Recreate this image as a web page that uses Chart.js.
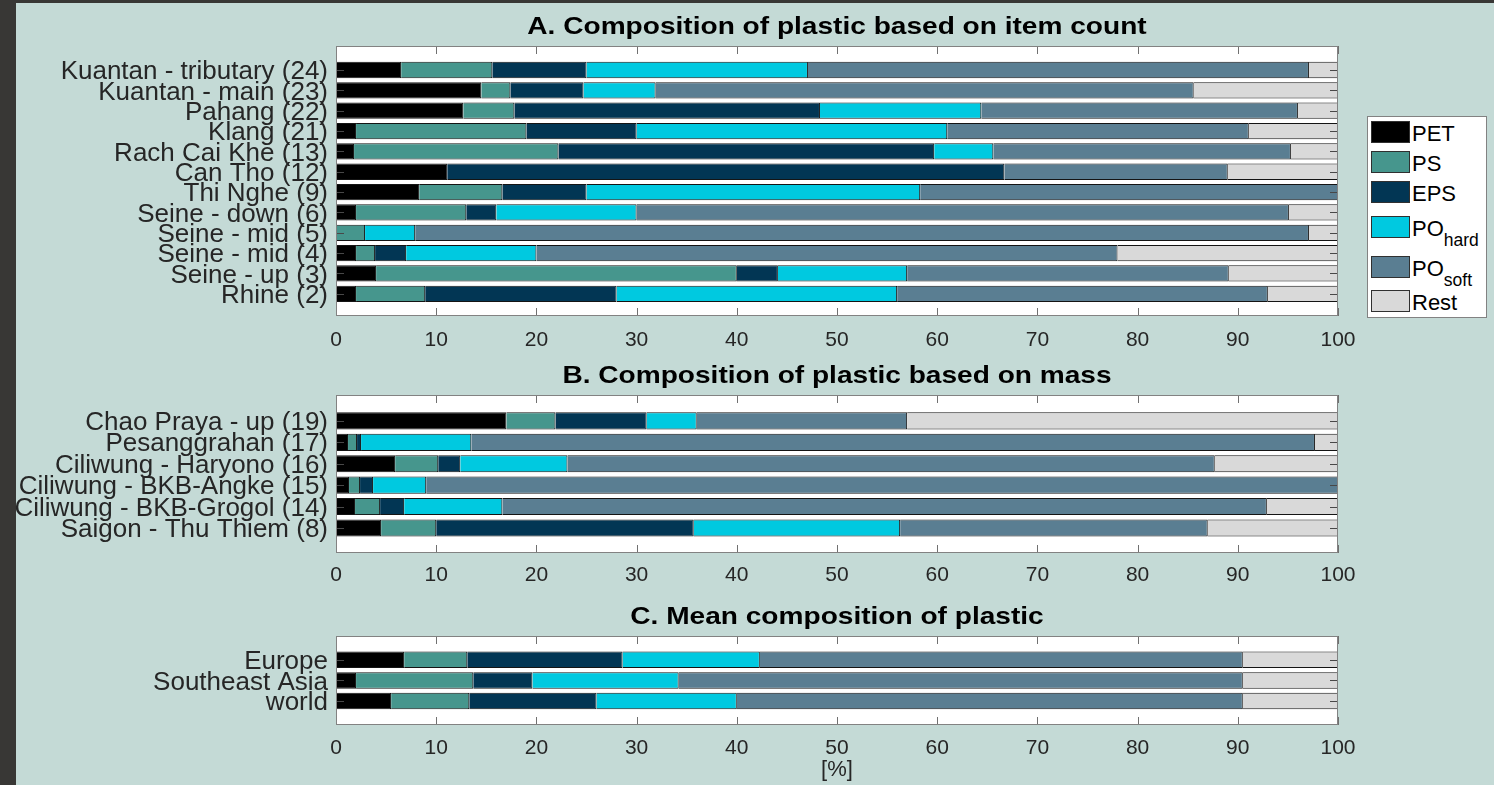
<!DOCTYPE html>
<html>
<head>
<meta charset="utf-8">
<script src="https://cdn.jsdelivr.net/npm/chart.js@4.4.1/dist/chart.umd.min.js"></script>
<style>
  html, body { margin: 0; padding: 0; }
  body { width: 1494px; height: 785px; background: #383735; position: relative; overflow: hidden;
         font-family: "Liberation Sans", Arial, sans-serif; }
  #sheet { position: absolute; left: 16px; top: 3px; right: 0; bottom: 0; background: #c4dad6; }
  canvas { position: absolute; left: 0; }
  #legend { position: absolute; left: 1367px; top: 116px; width: 120px; height: 202px; background: #fff;
            border: 1px solid #828282; box-sizing: border-box; }
  .item { position: absolute; left: 3px; height: 22px; width: 110px; }
  .sw { position: absolute; left: 0; top: 0; width: 39px; height: 22px; box-sizing: border-box; border: 1px solid #303030; }
  .lb { position: absolute; left: 41px; top: 2px; font-size: 22px; line-height: 22px; color: #000; white-space: nowrap; }
  .lb .sub { position: relative; top: 10px; font-size: 17.5px; }
</style>
</head>
<body>
<div id="sheet"></div>
<canvas id="chartA" width="1494" height="360" style="top:0;width:1494px;height:360px"></canvas>
<canvas id="chartB" width="1494" height="230" style="top:360px;width:1494px;height:230px"></canvas>
<canvas id="chartC" width="1494" height="195" style="top:590px;width:1494px;height:195px"></canvas>

<div id="legend">
  <div class="item" style="top:4px"><div class="sw" style="background:#000000"></div><div class="lb">PET</div></div>
  <div class="item" style="top:34px"><div class="sw" style="background:#46968d"></div><div class="lb">PS</div></div>
  <div class="item" style="top:64px"><div class="sw" style="background:#023654"></div><div class="lb">EPS</div></div>
  <div class="item" style="top:99px"><div class="sw" style="background:#00c9e0"></div><div class="lb">PO<span class="sub">hard</span></div></div>
  <div class="item" style="top:139px"><div class="sw" style="background:#5a7e92"></div><div class="lb">PO<span class="sub">soft</span></div></div>
  <div class="item" style="top:173px"><div class="sw" style="background:#d9d9d9"></div><div class="lb">Rest</div></div>
</div>

<script>
// ---- A. composition by item count (%), listed top to bottom ----
const labelsA = ['Kuantan - tributary (24)', 'Kuantan - main (23)', 'Pahang (22)', 'Klang (21)',
                 'Rach Cai Khe (13)', 'Can Tho (12)', 'Thi Nghe (9)', 'Seine - down (6)',
                 'Seine - mid (5)', 'Seine - mid (4)', 'Seine - up (3)', 'Rhine (2)'];
const petA    = [6.5, 14.5, 12.7, 2.0, 1.8, 11.1, 8.3, 2.0, 0, 2.0, 4.0, 2.0];
const psA     = [9.1, 2.9, 5.1, 17.0, 20.4, 0, 8.3, 11.0, 2.9, 1.9, 36.0, 6.9];
const epsA    = [9.4, 7.3, 30.5, 11.0, 37.5, 55.6, 8.4, 3.0, 0, 3.1, 4.1, 19.1];
const poHardA = [22.1, 7.2, 16.1, 31.0, 5.9, 0, 33.3, 14.0, 5.0, 13.0, 12.9, 28.0];
const poSoftA = [50.0, 53.7, 31.6, 30.1, 29.7, 22.3, 41.7, 65.1, 89.2, 58.0, 32.1, 37.0];
const restA   = [2.9, 14.4, 4.0, 8.9, 4.7, 11.0, 0, 4.9, 2.9, 22.0, 10.9, 7.0];

// ---- B. composition by mass (%) ----
const labelsB = ['Chao Praya - up (19)', 'Pesanggrahan (17)', 'Ciliwung - Haryono (16)',
                 'Ciliwung - BKB-Angke (15)', 'Ciliwung - BKB-Grogol (14)', 'Saigon - Thu Thiem (8)'];
const petB    = [17.0, 1.2, 5.9, 1.3, 1.9, 4.5];
const psB     = [4.9, 0.9, 4.3, 1.1, 2.5, 5.5];
const epsB    = [9.1, 0.4, 2.2, 1.3, 2.4, 25.7];
const poHardB = [5.0, 11.0, 10.7, 5.3, 9.8, 20.6];
const poSoftB = [21.0, 84.2, 64.6, 91.0, 76.3, 30.7];
const restB   = [43.0, 2.3, 12.3, 0, 7.1, 13.0];

// ---- C. mean composition (%) ----
const labelsC = ['Europe', 'Southeast Asia', 'world'];
const petC    = [6.8, 2.0, 5.5];
const psC     = [6.3, 11.7, 7.8];
const epsC    = [15.5, 5.9, 12.7];
const poHardC = [13.7, 14.6, 14.0];
const poSoftC = [48.2, 56.3, 50.5];
const restC   = [9.5, 9.5, 9.5];

const xTickStep = 10;
const seriesNames  = ['PET', 'PS', 'EPS', 'PO hard', 'PO soft', 'Rest'];
const seriesColors = ['#000000', '#46968d', '#023654', '#00c9e0', '#5a7e92', '#d9d9d9'];

const FONT = '"Liberation Sans", Arial, Helvetica, sans-serif';
const TEXT = '#262626';

// white axes box, inward ticks on all four sides and a bold title above the plot area
const panelFrame = {
  id: 'panelFrame',
  beforeDatasetsDraw(chart) {
    const { ctx, chartArea: a } = chart;
    ctx.save();
    ctx.fillStyle = '#ffffff';
    ctx.fillRect(a.left, a.top, a.right - a.left, a.bottom - a.top);
    ctx.restore();
  },
  afterDatasetsDraw(chart) {
    const { ctx, chartArea: a, scales: { x, y } } = chart;
    ctx.save();
    ctx.lineWidth = 1;
    ctx.strokeStyle = '#707070';
    ctx.beginPath();
    x.ticks.forEach(t => {
      const px = Math.round(x.getPixelForValue(t.value)) + 0.5;
      ctx.moveTo(px, a.top); ctx.lineTo(px, a.top + 8);
      ctx.moveTo(px, a.bottom); ctx.lineTo(px, a.bottom - 8);
    });
    ctx.stroke();
    ctx.strokeStyle = '#484848';
    ctx.beginPath();
    y.ticks.forEach(t => {
      const py = Math.round(y.getPixelForValue(t.value)) + 0.5;
      ctx.moveTo(a.left, py); ctx.lineTo(a.left + 8, py);
      ctx.moveTo(a.right, py); ctx.lineTo(a.right - 8, py);
    });
    ctx.stroke();
    ctx.strokeStyle = '#828282';
    ctx.strokeRect(Math.round(a.left) + 0.5, Math.round(a.top) + 0.5,
                   Math.round(a.right - a.left) - 1, Math.round(a.bottom - a.top) - 1);
    ctx.restore();
  },
  afterDraw(chart, args, opts) {
    if (!opts.text) return;
    const { ctx, chartArea: a } = chart;
    ctx.save();
    ctx.font = 'bold 24px ' + FONT;
    ctx.fillStyle = '#000000';
    ctx.textAlign = 'center';
    ctx.textBaseline = 'alphabetic';
    ctx.translate((a.left + a.right) / 2, a.top - 12.5);
    ctx.scale(1.17, 1);
    ctx.fillText(opts.text, 0, 0);
    ctx.restore();
  }
};

function makePanel(id, title, labels, series, geom) {
  const datasets = series.map((vals, s) => ({
    label: seriesNames[s],
    data: vals.map((v, i) => ({ x: v, y: i + 1 })),
    backgroundColor: seriesColors[s],
    borderColor: '#141414',
    borderWidth: 1,
    borderSkipped: 'start',
    barPercentage: 0.8,
    categoryPercentage: 1.0
  }));
  const n = labels.length;
  return new Chart(document.getElementById(id), {
    type: 'bar',
    data: { datasets },
    plugins: [panelFrame],
    options: {
      indexAxis: 'y',
      responsive: false,
      animation: false,
      devicePixelRatio: 1,
      layout: { padding: { top: geom.top, right: 156, bottom: 0, left: 0 } },
      plugins: {
        legend: { display: false },
        tooltip: { enabled: false },
        panelFrame: { text: title }
      },
      scales: {
        x: {
          type: 'linear', position: 'bottom', min: 0, max: 100, stacked: true,
          grid: { display: false, drawTicks: false },
          border: { display: false },
          ticks: { stepSize: xTickStep, padding: geom.tickPad, color: TEXT, autoSkip: false, maxRotation: 0,
                   font: { family: FONT, size: 21 } },
          title: geom.xTitle ? { display: true, text: geom.xTitle, color: TEXT,
                                 font: { family: FONT, size: 22 }, padding: { top: 0, bottom: 2 } }
                             : { display: false },
          afterFit(s) { s.height = geom.axisH; }
        },
        y: {
          type: 'linear', reverse: true, stacked: true, offset: false,
          min: 1 - geom.padTop, max: n + geom.padBottom,
          grid: { display: false, drawTicks: false, offset: false },
          border: { display: false },
          afterBuildTicks(s) { s.ticks = labels.map((_, i) => ({ value: i + 1 })); },
          ticks: { autoSkip: false, padding: 8, labelOffset: 2, color: TEXT, font: { family: FONT, size: 26 },
                   callback: v => labels[v - 1] || '' },
          afterFit(s) { s.width = 336; }
        }
      }
    }
  });
}

makePanel('chartA', 'A. Composition of plastic based on item count', labelsA,
  [petA, psA, epsA, poHardA, poSoftA, restA],
  { top: 46, axisH: 44, padTop: 1.18, padBottom: 1.09, tickPad: 12 });
makePanel('chartB', 'B. Composition of plastic based on mass', labelsB,
  [petB, psB, epsB, poHardB, poSoftB, restB],
  { top: 35, axisH: 37, padTop: 1.21, padBottom: 1.17, tickPad: 10 });
makePanel('chartC', 'C. Mean composition of plastic', labelsC,
  [petC, psC, epsC, poHardC, poSoftC, restC],
  { top: 46, axisH: 60, padTop: 1.15, padBottom: 1.16, tickPad: 11, xTitle: '[%]' });
</script>
</body>
</html>
